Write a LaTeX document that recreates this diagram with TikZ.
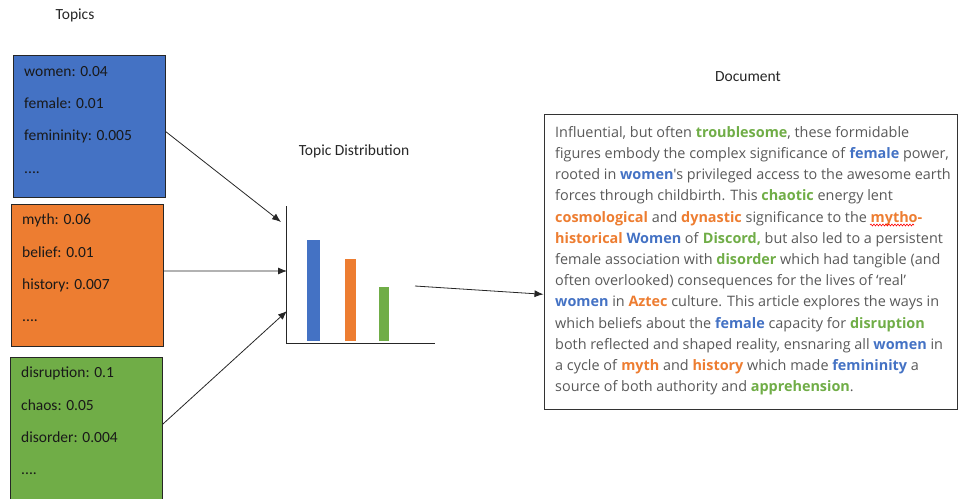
\documentclass[tikz,border=0pt]{standalone}
\usepackage{fontspec}
\usepackage{xcolor}
\usepackage{tikz}
\usetikzlibrary{arrows.meta,decorations.pathmorphing}
\setmainfont{Carlito}
\newfontfamily\docfont{Open Sans}
\definecolor{topicblue}{HTML}{4472C4}
\definecolor{topicorange}{HTML}{ED7D31}
\definecolor{topicgreen}{HTML}{70AD47}
\definecolor{doctext}{HTML}{595959}
\newcommand{\bw}[1]{\textbf{\color{topicblue}#1}}
\newcommand{\ow}[1]{\textbf{\color{topicorange}#1}}
\newcommand{\gw}[1]{\textbf{\color{topicgreen}#1}}

\begin{document}
\begin{tikzpicture}[x=1pt, y=-1pt,
        topicbox/.style={draw=black!85, line width=0.8pt, minimum width=152pt, minimum height=142pt, inner sep=0pt},
        wordlist/.style={anchor=north west, align=left, inner sep=0pt, text=black!90, font=\fontsize{15.5pt}{32.3pt}\selectfont},
        label/.style={text=black!85, inner sep=0pt, font=\fontsize{15.5pt}{18pt}\selectfont},
        feed/.style={draw=black!85, line width=0.8pt, -{Latex[length=9pt,width=7pt]}}]
        \useasboundingbox (0,0) rectangle (958,498);

        \coordinate (axtop) at (286,206);
        \coordinate (origin) at (286,343);
        \coordinate (axend) at (435,343);

        \coordinate (inA) at (281,222);
        \coordinate (inB) at (287,271);
        \coordinate (inC) at (287,311);
        \coordinate (distout) at (415,286);

        \node[label] (topicslabel) at (75,15) {Topics};
        \node[label] (distlabel) at (354,151) {Topic Distribution};
        \node[label] (doclabel) at (748,77) {Document};

        \node[topicbox, fill=topicblue] (bluebox) at (89,126) {};
        \node[topicbox, fill=topicorange] (orangebox) at (87,275) {};
        \node[topicbox, fill=topicgreen, minimum height=143pt] (greenbox) at (86,428.5) {};

        \node[wordlist] (bluewords) at (24,66) {women: 0.04\\female: 0.01\\femininity: 0.005\\....};
        \node[wordlist] (orangewords) at (22,214) {myth: 0.06\\belief: 0.01\\history: 0.007\\....};
        \node[wordlist] (greenwords) at (21,367) {disruption: 0.1\\chaos: 0.05\\disorder: 0.004\\....};

        \fill[topicblue] (307,240) rectangle (320,341);
        \fill[topicorange] (345,259) rectangle (356,341);
        \fill[topicgreen] (379,287) rectangle (389,341);
        \draw[black!85, line width=1pt] (axtop) -- (origin) -- (axend);

        \node[draw=black!80, line width=1pt, minimum width=413pt, minimum height=295pt, inner sep=0pt] (doc) at (750.5,261.5) {};
        \node[anchor=north west, align=left, inner sep=0pt, text=doctext,
              font=\docfont\fontsize{14.4pt}{21.2pt}\selectfont] (doctext) at (555,126) {%
Influential, but often \gw{troublesome}, these formidable\\
figures embody the complex significance of \bw{female} power,\\
rooted in \bw{women}'s privileged access to the awesome earth\\
forces through childbirth. This \gw{chaotic} energy lent\\
\ow{cosmological} and \ow{dynastic} significance to the \ow{mytho-}\\
\ow{historical} \bw{Women} of \gw{Discord,} but also led to a persistent\\
female association with \gw{disorder} which had tangible (and\\
often overlooked) consequences for the lives of ‘real’\\
\bw{women} in \ow{Aztec} culture. This article explores the ways in\\
which beliefs about the \bw{female} capacity for \gw{disruption}\\
both reflected and shaped reality, ensnaring all \bw{women} in\\
a cycle of \ow{myth} and \ow{history} which made \bw{femininity} a\\
source of both authority and \gw{apprehension}.};
        \draw[red, line width=0.6pt, decorate, decoration={snake, amplitude=0.9pt, segment length=3pt}] (870,225) -- (914,225);

        \draw[feed] (bluebox.-4) -- (inA);
        \draw[feed] (orangebox.3) -- (inB);
        \draw[feed] (greenbox.3) -- (inC);
        \draw[feed] (distout) -- (doc.189);
    \end{tikzpicture}
\end{document}
